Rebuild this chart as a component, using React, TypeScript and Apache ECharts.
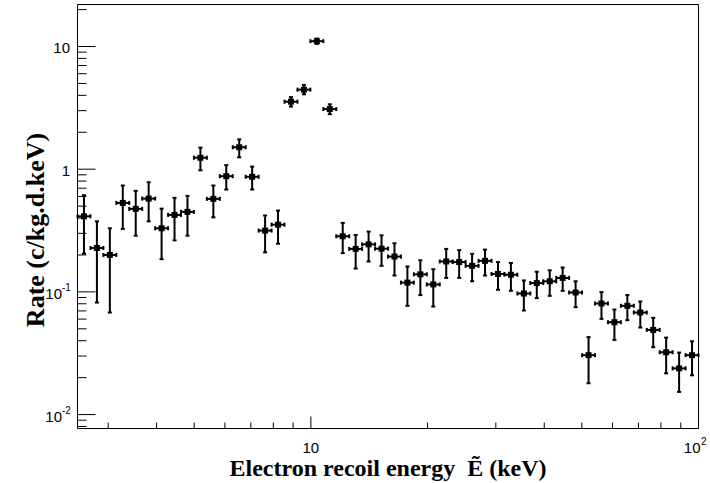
import React, { useEffect, useRef } from 'react';
import * as echarts from 'echarts';

// Histogram bin edges (keV), log-spaced
const binEdges = [
  2.5, 2.6997, 2.9154, 3.1483, 3.3998, 3.6713, 3.9646, 4.2813, 4.6233, 4.9926,
  5.3915, 5.8221, 6.2872, 6.7895, 7.3318, 7.9175, 8.55, 9.233, 9.9706, 10.767,
  11.627, 12.556, 13.559, 14.642, 15.812, 17.075, 18.439, 19.912, 21.502, 23.22,
  25.075, 27.078, 29.241, 31.577, 34.099, 36.823, 39.765, 42.941, 46.371, 50.076,
  54.076, 58.396, 63.06, 68.098, 73.538, 79.412, 85.756, 92.606, 100.0,
];

// Rate (c/kg.d.keV) per bin and its error-bar bounds
const rate = [
  0.413, 0.228, 0.2, 0.531, 0.475, 0.576, 0.33, 0.424, 0.449, 1.24,
  0.573, 0.877, 1.51, 0.867, 0.316, 0.353, 3.55, 4.45, 11.05, 3.09,
  0.284, 0.224, 0.244, 0.225, 0.194, 0.119, 0.139, 0.115, 0.177, 0.175,
  0.163, 0.179, 0.14, 0.138, 0.097, 0.118, 0.122, 0.13, 0.0989, 0.0305,
  0.0804, 0.0566, 0.077, 0.0679, 0.049, 0.0322, 0.0238, 0.0305,
];
const rateLow = [
  0.205, 0.0819, 0.0679, 0.326, 0.287, 0.376, 0.185, 0.263, 0.287, 0.98,
  0.405, 0.683, 1.25, 0.683, 0.21, 0.247, 3.24, 4.08, 10.5, 2.81,
  0.207, 0.155, 0.177, 0.163, 0.136, 0.077, 0.0942, 0.076, 0.13, 0.13,
  0.122, 0.136, 0.104, 0.102, 0.0705, 0.089, 0.0929, 0.102, 0.0751, 0.018,
  0.0603, 0.0406, 0.0588, 0.0512, 0.0354, 0.0217, 0.0153, 0.0209,
];
const rateHigh = [
  0.613, 0.376, 0.33, 0.736, 0.666, 0.783, 0.477, 0.584, 0.606, 1.5,
  0.736, 1.08, 1.75, 1.05, 0.419, 0.46, 3.87, 4.86, 11.6, 3.38,
  0.365, 0.291, 0.31, 0.289, 0.249, 0.161, 0.181, 0.153, 0.224, 0.219,
  0.204, 0.221, 0.175, 0.172, 0.124, 0.146, 0.15, 0.158, 0.122, 0.0428,
  0.0996, 0.0718, 0.0942, 0.0835, 0.0614, 0.0424, 0.032, 0.0396,
];

// Axis ranges and ticks
const xRange = [2.5, 100];
const yRange = [0.0077, 22];
const xMajorTicks = [10, 100];
const xMajorLabels = ['10', '10'];
const xMajorSups = ['', '2'];
const xMinorTicks = [3, 4, 5, 6, 7, 8, 9, 20, 30, 40, 50, 60, 70, 80, 90];
const yMajorTicks = [0.01, 0.1, 1, 10];
const yMajorLabels = ['10', '10', '1', '10'];
const yMajorSups = ['-2', '-1', '', ''];
const yMinorTicks = [
  0.008, 0.009,
  0.02, 0.03, 0.04, 0.05, 0.06, 0.07, 0.08, 0.09,
  0.2, 0.3, 0.4, 0.5, 0.6, 0.7, 0.8, 0.9,
  2, 3, 4, 5, 6, 7, 8, 9, 20,
];

const xTitle = 'Electron recoil energy  Ẽ (keV)';
const yTitle = 'Rate (c/kg.d.keV)';

const TICK_FONT = '"Liberation Sans", Arial, sans-serif';
const X_TITLE_FONT = 'bold 24px "Liberation Serif", "Times New Roman", serif';
const Y_TITLE_FONT = 'bold 26px "Liberation Serif", "Times New Roman", serif';

function txt(text: string, x: number, y: number, size: number, align: string, valign: string) {
  return {
    type: 'text',
    x,
    y,
    style: {
      text,
      fill: '#000',
      fontSize: size,
      lineHeight: size - 2,
      fontFamily: TICK_FONT,
      align,
      verticalAlign: valign,
      textAlign: align,
      textVerticalAlign: valign,
    },
  };
}

export default function App() {
  const ref = useRef<HTMLDivElement>(null);

  useEffect(() => {
    if (!ref.current) return;
    const chart = echarts.init(ref.current, undefined, { renderer: 'svg' });

    const points = rate.map((v, i) => [
      Math.sqrt(binEdges[i] * binEdges[i + 1]),
      v,
      binEdges[i],
      binEdges[i + 1],
      rateLow[i],
      rateHigh[i],
    ]);

    const lineStyle = { stroke: '#000', lineWidth: 2 };
    const tickStyle = { stroke: '#000', lineWidth: 1 };

    const option: any = {
      animation: false,
      backgroundColor: '#fff',
      grid: {
        left: 77.5,
        right: 11.5,
        top: 4.5,
        bottom: 54.5,
        show: true,
        borderColor: '#000',
        borderWidth: 1,
        backgroundColor: 'transparent',
      },
      xAxis: {
        type: 'log',
        logBase: 10,
        min: xRange[0],
        max: xRange[1],
        axisLine: { show: false },
        axisTick: { show: false },
        axisLabel: { show: false },
        splitLine: { show: false },
      },
      yAxis: {
        type: 'log',
        logBase: 10,
        min: yRange[0],
        max: yRange[1],
        axisLine: { show: false },
        axisTick: { show: false },
        axisLabel: { show: false },
        splitLine: { show: false },
      },
      graphic: [
        {
          type: 'text',
          x: 388,
          y: 468,
          style: {
            text: xTitle,
            font: X_TITLE_FONT,
            fill: '#000',
            align: 'center',
            verticalAlign: 'middle',
            textAlign: 'center',
            textVerticalAlign: 'middle',
          },
        },
        {
          type: 'text',
          x: 35,
          y: 230,
          rotation: Math.PI / 2,
          style: {
            text: yTitle,
            font: Y_TITLE_FONT,
            fill: '#000',
            align: 'center',
            verticalAlign: 'middle',
            textAlign: 'center',
            textVerticalAlign: 'middle',
          },
        },
      ],
      series: [
        {
          type: 'custom',
          name: 'xMinor',
          data: xMinorTicks.map((v) => [v, yRange[0]]),
          renderItem: (params: any, api: any) => {
            const p = api.coord([api.value(0), api.value(1)]);
            return {
              type: 'line',
              shape: { x1: p[0], y1: p[1], x2: p[0], y2: p[1] - 6 },
              style: tickStyle,
            };
          },
        },
        {
          type: 'custom',
          name: 'xMajor',
          data: xMajorTicks.map((v) => [v, yRange[0]]),
          renderItem: (params: any, api: any) => {
            const p = api.coord([api.value(0), api.value(1)]);
            const i = params.dataIndex;
            const children: any[] = [
              {
                type: 'line',
                shape: { x1: p[0], y1: p[1], x2: p[0], y2: p[1] - 12 },
                style: tickStyle,
              },
            ];
            if (xMajorSups[i]) {
              children.push(txt(xMajorLabels[i], p[0] + 2, p[1] + 18.5, 15, 'right', 'middle'));
              children.push(txt(xMajorSups[i], p[0] + 2.5, p[1] + 12.5, 10, 'left', 'middle'));
            } else {
              children.push(txt(xMajorLabels[i], p[0], p[1] + 18.5, 15, 'center', 'middle'));
            }
            return { type: 'group', children };
          },
        },
        {
          type: 'custom',
          name: 'yMinor',
          data: yMinorTicks.map((v) => [xRange[0], v]),
          renderItem: (params: any, api: any) => {
            const p = api.coord([api.value(0), api.value(1)]);
            return {
              type: 'line',
              shape: { x1: p[0], y1: p[1], x2: p[0] + 9, y2: p[1] },
              style: tickStyle,
            };
          },
        },
        {
          type: 'custom',
          name: 'yMajor',
          data: yMajorTicks.map((v) => [xRange[0], v]),
          renderItem: (params: any, api: any) => {
            const p = api.coord([api.value(0), api.value(1)]);
            const i = params.dataIndex;
            const children: any[] = [
              {
                type: 'line',
                shape: { x1: p[0], y1: p[1], x2: p[0] + 18, y2: p[1] },
                style: tickStyle,
              },
            ];
            if (yMajorSups[i]) {
              children.push(txt(yMajorLabels[i], p[0] - 15.5, p[1] + 2, 15, 'right', 'middle'));
              children.push(txt(yMajorSups[i], p[0] - 15.5, p[1] - 4, 10, 'left', 'middle'));
            } else {
              children.push(txt(yMajorLabels[i], p[0] - 7.5, p[1] + 1, 15, 'right', 'middle'));
            }
            return { type: 'group', children };
          },
        },
        {
          type: 'custom',
          name: 'Rate',
          data: points,
          renderItem: (params: any, api: any) => {
            const c = api.coord([api.value(0), api.value(1)]);
            const l = api.coord([api.value(2), api.value(1)]);
            const r = api.coord([api.value(3), api.value(1)]);
            const lo = api.coord([api.value(0), api.value(4)]);
            const hi = api.coord([api.value(0), api.value(5)]);
            const cap = 2;
            const m = 3;
            return {
              type: 'group',
              children: [
                { type: 'line', shape: { x1: l[0], y1: c[1], x2: r[0], y2: c[1] }, style: lineStyle },
                { type: 'line', shape: { x1: c[0], y1: hi[1], x2: c[0], y2: lo[1] }, style: lineStyle },
                { type: 'line', shape: { x1: l[0], y1: c[1] - cap, x2: l[0], y2: c[1] + cap }, style: lineStyle },
                { type: 'line', shape: { x1: r[0], y1: c[1] - cap, x2: r[0], y2: c[1] + cap }, style: lineStyle },
                { type: 'line', shape: { x1: c[0] - cap, y1: hi[1], x2: c[0] + cap, y2: hi[1] }, style: lineStyle },
                { type: 'line', shape: { x1: c[0] - cap, y1: lo[1], x2: c[0] + cap, y2: lo[1] }, style: lineStyle },
                { type: 'rect', shape: { x: c[0] - m, y: c[1] - m, width: 2 * m, height: 2 * m }, style: { fill: '#000' } },
              ],
            };
          },
        },
      ],
    };

    chart.setOption(option);
    return () => chart.dispose();
  }, []);

  return (
    <div
      ref={ref}
      style={{ position: 'absolute', left: 0, top: 0, width: 710, height: 483, background: '#fff' }}
    />
  );
}
